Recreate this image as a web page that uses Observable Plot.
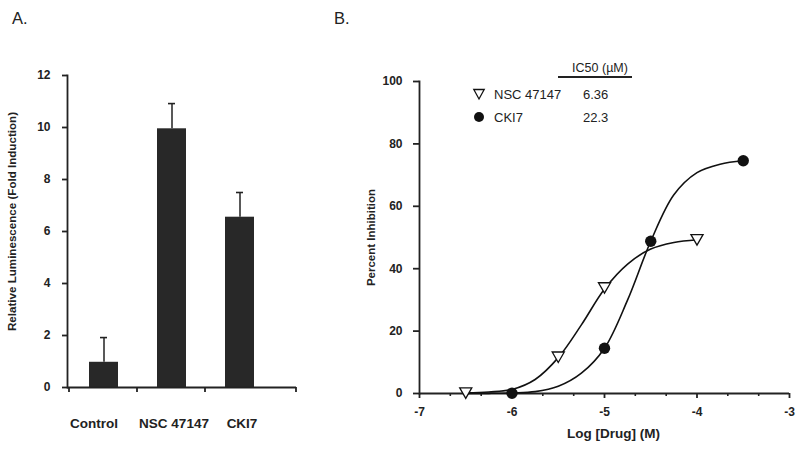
<!DOCTYPE html>
<html>
<head>
<meta charset="utf-8">
<script src="https://cdn.jsdelivr.net/npm/d3@7"></script>
<script src="https://cdn.jsdelivr.net/npm/@observablehq/plot@0.6"></script>
<style>
  body { margin: 0; background: #fff; font-family: "Liberation Sans", Arial, sans-serif; }
  #wrap { position: relative; width: 800px; height: 451px; overflow: hidden; background: #fff; }
  #wrap svg.pl { position: absolute; top: 0; }
  .abs { position: absolute; line-height: 1; white-space: nowrap; color: #222; }
</style>
</head>
<body>
<div id="wrap"></div>
<script>
// ---------- Panel A data ----------
const categories = ["Control", "NSC 47147", "CKI7"];
const luminescence = [0.97, 9.95, 6.55];
const luminescenceErr = [0.95, 0.97, 0.95];
const yTicksA = [0, 2, 4, 6, 8, 10, 12];

// ---------- Panel B data ----------
const seriesNames = ["NSC 47147", "CKI7"];
const ic50Values = ["6.36", "22.3"];
const nscDose = [-6.5, -5.5, -5, -4];
const nscInhibition = [0.3, 11.8, 34, 49.4];
const ckiDose = [-6, -5, -4.5, -3.5];
const ckiInhibition = [0.1, 14.5, 48.8, 74.6];
// fitted curves
const nscFitDose = [-6.5, -6.25, -6, -5.75, -5.5, -5.25, -5, -4.75, -4.5, -4.25, -4];
const nscFitInhibition = [0.2, 0.5, 1.3, 4.5, 11.5, 22, 33.5, 41.5, 46.3, 48.4, 49.3];
const ckiFitDose = [-6.5, -6.25, -6, -5.75, -5.5, -5.25, -5, -4.75, -4.5, -4.25, -4, -3.75, -3.5];
const ckiFitInhibition = [0, 0.05, 0.2, 0.6, 2.3, 6.5, 14.5, 30, 48.8, 63.7, 70.8, 73.5, 74.6];
const xTicksB = [-7, -6, -5, -4, -3];
const xMinorTicksB = [-6.667, -6.333, -5.667, -5.333, -4.667, -4.333, -3.667, -3.333];
const yTicksB = [0, 20, 40, 60, 80, 100];

const FONT = '"Liberation Sans", Arial, sans-serif';
const INK = "#222";

const wrap = document.getElementById("wrap");

// ---------- Panel A ----------
const barData = categories.map((c, i) => ({ cat: c, v: luminescence[i], hi: luminescence[i] + luminescenceErr[i] }));

const plotA = Plot.plot({
  width: 300, height: 451,
  marginLeft: 67, marginRight: 4, marginTop: 75, marginBottom: 64,
  style: { fontFamily: FONT, color: INK, background: "transparent", overflow: "visible" },
  x: { type: "band", domain: categories, range: [49, 294], padding: 0.575 },
  y: { domain: [0, 12] },
  marks: [
    Plot.barY(barData, { x: "cat", y: "v", fill: "#282828" }),
    Plot.ruleX(barData, { x: "cat", y1: "v", y2: "hi", stroke: INK, strokeWidth: 1.5 }),
    Plot.tickY(barData, { x: "cat", y: "hi", stroke: INK, strokeWidth: 1.6, insetLeft: 11, insetRight: 11 }),
    Plot.frame({ anchor: "left", stroke: INK, strokeWidth: 1.8 }),
    Plot.ruleY([0], { stroke: INK, strokeWidth: 1.8 }),
    Plot.axisY({ ticks: yTicksA, tickSize: 5, tickPadding: 12, fontSize: 12, fontWeight: "bold", label: null, strokeWidth: 1.8 }),
    Plot.axisX({ ticks: categories, tickSize: 5, dx: -35, text: null, label: null, strokeWidth: 1.8 }),
    Plot.axisX({ ticks: categories.slice(-1), tickSize: 5, dx: 56, text: null, label: null, strokeWidth: 1.8 }),
    Plot.axisX({ ticks: categories.slice(0, 1), tickSize: 0, tickPadding: 31, dx: -10, fontSize: 13.5, fontWeight: "bold", label: null }),
    Plot.axisX({ ticks: categories.slice(1), tickSize: 0, tickPadding: 31, dx: 2, fontSize: 13.5, fontWeight: "bold", label: null }),
    Plot.text(["Relative Luminescence (Fold Induction)"], {
      text: d => d, frameAnchor: "left", rotate: -90, textAnchor: "middle",
      dx: -55, dy: -10, fontSize: 11.6, fontWeight: "bold", fill: INK
    })
  ]
});
plotA.classList.add("pl");
plotA.style.left = "0px";
wrap.appendChild(plotA);

// ---------- Panel B ----------
const triangleDown = {
  draw(ctx, size) {
    const r = Math.sqrt(size / Math.PI);
    ctx.moveTo(-r * 1.1, -r * 0.85);
    ctx.lineTo(r * 1.1, -r * 0.85);
    ctx.lineTo(0, r * 1.05);
    ctx.closePath();
  }
};

const nscPts = nscDose.map((x, i) => ({ x, y: nscInhibition[i] }));
const ckiPts = ckiDose.map((x, i) => ({ x, y: ckiInhibition[i] }));
const nscFit = nscFitDose.map((x, i) => ({ x, y: nscFitInhibition[i] }));
const ckiFit = ckiFitDose.map((x, i) => ({ x, y: ckiFitInhibition[i] }));

const plotB = Plot.plot({
  width: 470, height: 451,
  marginLeft: 89, marginRight: 11, marginTop: 81, marginBottom: 58,
  style: { fontFamily: FONT, color: INK, background: "transparent", overflow: "visible" },
  x: { domain: [-7, -3] },
  y: { domain: [0, 100] },
  marks: [
    Plot.frame({ anchor: "left", stroke: INK, strokeWidth: 1.8 }),
    Plot.ruleY([0], { stroke: INK, strokeWidth: 1.8 }),
    Plot.axisY({ ticks: yTicksB, tickSize: 6, tickPadding: 11, fontSize: 12, fontWeight: "bold", label: null, strokeWidth: 1.8, tickFormat: d => String(d) }),
    Plot.axisX({ ticks: xTicksB, tickSize: 5, tickPadding: 9, fontSize: 12, fontWeight: "bold", label: null, strokeWidth: 1.8, tickFormat: d => String(d) }),
    Plot.axisX({ ticks: xMinorTicksB, tickSize: 3, text: null, label: null, strokeWidth: 1.6 }),
    Plot.line(nscFit, { x: "x", y: "y", curve: "catmull-rom", stroke: "#111", strokeWidth: 1.6 }),
    Plot.line(ckiFit, { x: "x", y: "y", curve: "catmull-rom", stroke: "#111", strokeWidth: 1.6 }),
    Plot.dot(nscPts, { x: "x", y: "y", symbol: triangleDown, r: 5.5, fill: "white", stroke: "#111", strokeWidth: 1.3 }),
    Plot.dot(ckiPts, { x: "x", y: "y", r: 5.7, fill: "#111", stroke: "none" }),
    Plot.text(["Log [Drug] (M)"], { text: d => d, frameAnchor: "bottom", dy: 44, dx: 9, fontSize: 13.5, fontWeight: "bold", fill: INK }),
    Plot.text(["Percent Inhibition"], {
      text: d => d, frameAnchor: "left", rotate: -90, textAnchor: "middle",
      dx: -48, fontSize: 11.5, fontWeight: "bold", fill: INK
    })
  ]
});
plotB.classList.add("pl");
plotB.style.left = "330px";
wrap.appendChild(plotB);

// ---------- panel letters and legend (HTML overlay) ----------
function addText(txt, left, top, size, opts = {}) {
  const d = document.createElement("div");
  d.className = "abs";
  d.textContent = txt;
  d.style.left = left + "px";
  d.style.top = top + "px";
  d.style.fontSize = size + "px";
  d.style.transform = opts.center ? "translate(-50%,-50%)" : "translate(0,-50%)";
  if (opts.weight) d.style.fontWeight = opts.weight;
  wrap.appendChild(d);
  return d;
}
addText("A.", 12, 18, 16.5);
addText("B.", 334, 18, 16.5);

addText("IC50 (µM)", 600, 68, 12.5, { center: true });
const ul = document.createElement("div");
Object.assign(ul.style, { position: "absolute", left: "558px", top: "76px", width: "74px", height: "1.6px", background: INK });
wrap.appendChild(ul);

const legendY = [94, 117];
seriesNames.forEach((name, i) => {
  const svgNS = "http://www.w3.org/2000/svg";
  const s = document.createElementNS(svgNS, "svg");
  s.setAttribute("width", 14); s.setAttribute("height", 14);
  Object.assign(s.style, { position: "absolute", left: (479 - 7) + "px", top: (legendY[i] - 7) + "px" });
  if (i === 0) {
    const p = document.createElementNS(svgNS, "path");
    p.setAttribute("d", "M1.8,2.5 L12.2,2.5 L7,12 Z");
    p.setAttribute("fill", "white"); p.setAttribute("stroke", "#111"); p.setAttribute("stroke-width", "1.3");
    s.appendChild(p);
  } else {
    const c = document.createElementNS(svgNS, "circle");
    c.setAttribute("cx", 7); c.setAttribute("cy", 7); c.setAttribute("r", 5);
    c.setAttribute("fill", "#111");
    s.appendChild(c);
  }
  wrap.appendChild(s);
  addText(name, 494, legendY[i], 13);
  addText(ic50Values[i], 583, legendY[i], 13);
});
</script>
</body>
</html>
